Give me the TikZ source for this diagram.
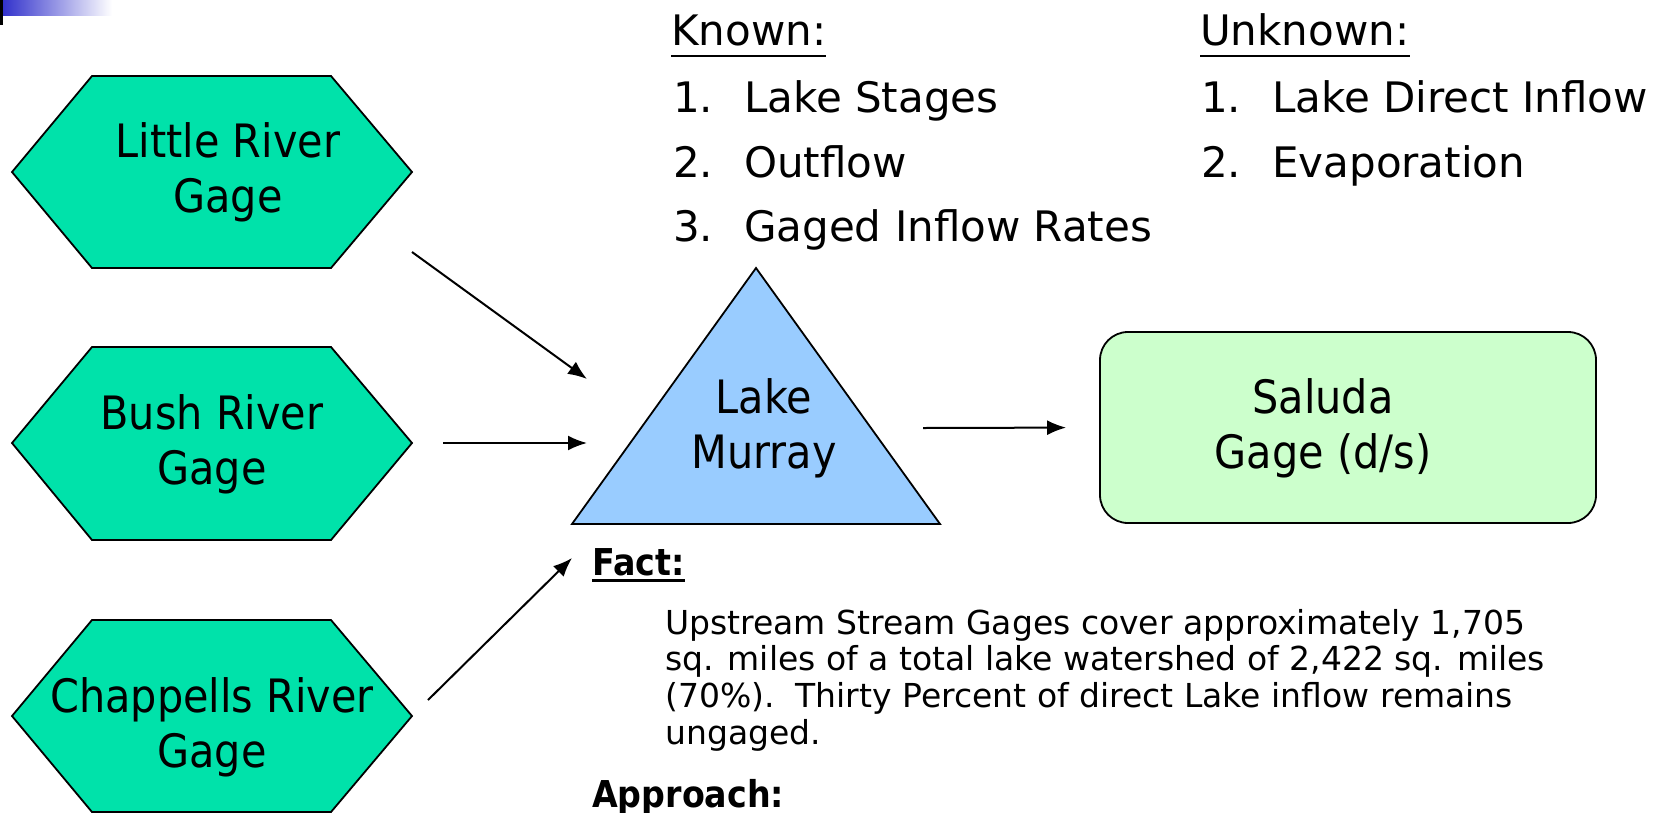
\documentclass[tikz,border=0pt]{standalone}
\usepackage{fontspec}
\setmainfont{DejaVu Sans}
\newfontfamily\condfont[FakeStretch=0.9]{DejaVu Sans}
\usepackage{xcolor}
\usepackage{tikz}
\usetikzlibrary{arrows.meta,positioning}

\definecolor{gagegreen}{RGB}{0,226,170}
\definecolor{lakeblue}{RGB}{153,204,255}
\definecolor{saludagreen}{RGB}{204,255,204}
\definecolor{barblue}{RGB}{51,51,204}

\tikzset{
  gagehex/.style={draw=black, line width=1.8pt, fill=gagegreen},
  shapelabel/.style={align=center, inner sep=0pt, font=\condfont\fontsize{46}{55}\selectfont},
  listtext/.style={anchor=base west, inner sep=0pt, font=\fontsize{42}{50}\selectfont},
  facttext/.style={anchor=base west, inner sep=0pt, font=\fontsize{33}{37}\selectfont},
  headtext/.style={anchor=base west, inner sep=0pt, font=\condfont\bfseries\fontsize{37}{44}\selectfont},
  flow/.style={line width=2pt, -{Latex[length=19pt,width=15pt]}}
}
\newcommand{\headrule}[3]{\draw[line width=#3] ([yshift=-#2]#1.base west) -- ([yshift=-#2]#1.base east);}

\begin{document}
\begin{tikzpicture}[x=1pt,y=-1pt]
    \useasboundingbox (0,0) rectangle (1673,812);

    % Barre en haut a gauche
    \fill[black] (0,0) rectangle (3,25);
    \shade[left color=barblue, right color=white] (3,0) rectangle (112,15);

    % Jauges amont
    \draw[gagehex] (12,172) -- (92,76) -- (331,76) -- (412,172) -- (331,268) -- (92,268) -- cycle;
    \node[shapelabel] (little) at (228,172) {Little River\\Gage};
    \draw[gagehex] (12,443) -- (92,347) -- (331,347) -- (412,443) -- (331,540) -- (92,540) -- cycle;
    \node[shapelabel] (bush) at (212,444) {Bush River\\Gage};
    \draw[gagehex] (12,716) -- (92,620) -- (331,620) -- (412,716) -- (331,812) -- (92,812) -- cycle;
    \node[shapelabel] (chappells) at (212,727) {Chappells River\\Gage};

    % Lac
    \draw[line width=1.8pt, fill=lakeblue] (572,524) -- (756,268) -- (940,524) -- cycle;
    \node[shapelabel] (lake) at (764,428) {Lake\\Murray};

    % Jauge aval
    \node[draw, line width=1.8pt, fill=saludagreen, rounded corners=28pt,
          minimum width=496pt, minimum height=191pt] (saluda) at (1348,427.5) {};
    \node[shapelabel] (saludatxt) at (1323,428) {Saluda\\Gage (d/s)};

    % Fleches
    \coordinate (little-end) at (412,252);
    \coordinate (lake-nw) at (587,379);
    \coordinate (bush-end) at (443,443);
    \coordinate (lake-w) at (587,443);
    \coordinate (chappells-end) at (428,700);
    \coordinate (fact-tip) at (572,558);
    \coordinate (lake-e) at (923,428);
    \draw[flow] (little-end) -- (lake-nw);
    \draw[flow] (bush-end) -- (lake-w);
    \draw[flow] (chappells-end) -- (fact-tip);
    \draw[flow, shorten >=33pt] (lake-e) -- (saluda.west);

    % Connu
    \node[listtext] (known) at (671,45) {Known:};
    \headrule{known}{11pt}{2.5pt}
    \node[listtext] (k1) at (673,112) {\makebox[71pt][l]{1.}Lake Stages};
    \node[listtext] (k2) at (673,177) {\makebox[71pt][l]{2.}Outflow};
    \node[listtext] (k3) at (673,241) {\makebox[71pt][l]{3.}Gaged Inflow Rates};

    % Inconnu
    \node[listtext] (unknown) at (1200,45) {Unknown:};
    \headrule{unknown}{11pt}{2.5pt}
    \node[listtext] (u1) at (1201,112) {\makebox[71pt][l]{1.}Lake Direct Inflow};
    \node[listtext] (u2) at (1201,177) {\makebox[71pt][l]{2.}Evaporation};

    % Fait
    \node[headtext] (fact) at (592,575) {Fact:};
    \headrule{fact}{5pt}{3pt}
    \node[facttext] (f1) at (665,634) {Upstream Stream Gages cover approximately 1,705};
    \node[facttext] (f2) at (665,670) {sq. miles of a total lake watershed of 2,422 sq. miles};
    \node[facttext] (f3) at (665,707) {(70\%).\ \ Thirty Percent of direct Lake inflow remains};
    \node[facttext] (f4) at (665,744) {ungaged.};
    \node[headtext] (approach) at (592,807) {Approach:};
\end{tikzpicture}
\end{document}
